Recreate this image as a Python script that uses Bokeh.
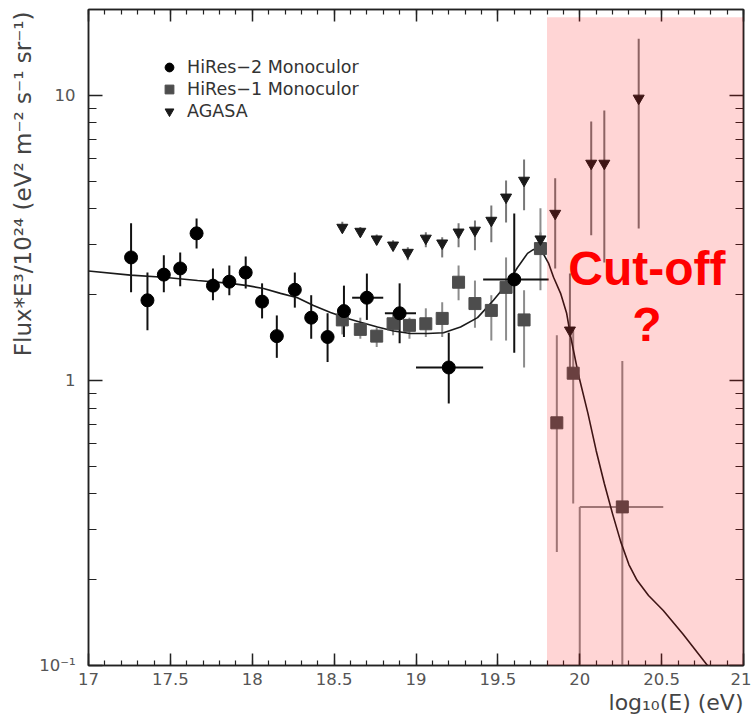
import math
from bokeh.plotting import figure
from bokeh.models import (Range1d, FixedTicker, LinearAxis, LogAxis, BoxAnnotation,
                          Label, Legend, LegendItem, ColumnDataSource, Title)
from bokeh.embed import file_html
from bokeh.resources import INLINE

# ---------------- data ----------------
# HiRes-2 Monocular (black circles)
h2_x = [17.26, 17.36, 17.46, 17.56, 17.66, 17.76, 17.86, 17.96, 18.06, 18.15, 18.26, 18.36,
        18.46, 18.56, 18.70, 18.90, 19.20, 19.60]
h2_y = [2.70, 1.91, 2.35, 2.47, 3.28, 2.15, 2.22, 2.39, 1.89, 1.43, 2.08, 1.66,
        1.42, 1.75, 1.95, 1.72, 1.11, 2.26]
h2_lo = [2.04, 1.50, 2.04, 2.14, 2.90, 1.91, 1.99, 2.10, 1.65, 1.20, 1.80, 1.40,
         1.16, 1.42, 1.63, 1.35, 0.83, 1.25]
h2_hi = [3.56, 2.39, 2.75, 2.81, 3.70, 2.47, 2.53, 2.72, 2.19, 1.69, 2.39, 1.99,
         1.72, 2.15, 2.37, 2.19, 1.47, 3.85]
h2_xlo = [17.26, 17.36, 17.46, 17.56, 17.66, 17.76, 17.86, 17.96, 18.06, 18.15, 18.26, 18.36,
          18.46, 18.56, 18.61, 18.81, 19.00, 19.41]
h2_xhi = [17.26, 17.36, 17.46, 17.56, 17.66, 17.76, 17.86, 17.96, 18.06, 18.15, 18.26, 18.36,
          18.46, 18.56, 18.80, 19.00, 19.41, 19.81]

# HiRes-1 Monocular (grey squares)
h1_x = [18.55, 18.66, 18.76, 18.86, 18.96, 19.06, 19.16, 19.26, 19.36, 19.46, 19.55, 19.66,
        19.76, 19.86, 19.96, 20.00, 20.26]
h1_y = [1.63, 1.51, 1.43, 1.58, 1.56, 1.58, 1.65, 2.21, 1.86, 1.76, 2.12, 1.63,
        2.90, 0.71, 1.06, 0.05, 0.36]
h1_lo = [1.45, 1.40, 1.31, 1.44, 1.40, 1.42, 1.42, 1.91, 1.53, 1.38, 1.38, 1.11,
         2.07, 0.25, 0.37, 0.01, 0.01]
h1_hi = [1.85, 1.66, 1.53, 1.72, 1.66, 1.79, 1.88, 2.53, 2.24, 1.99, 2.70, 2.07,
         4.02, 1.44, 1.50, 0.36, 1.17]
h1_xlo = [18.55, 18.66, 18.76, 18.86, 18.96, 19.06, 19.16, 19.26, 19.36, 19.46, 19.55, 19.66,
          19.76, 19.86, 19.96, 20.00, 20.00]
h1_xhi = [18.55, 18.66, 18.76, 18.86, 18.96, 19.06, 19.16, 19.26, 19.36, 19.46, 19.55, 19.66,
          19.76, 19.86, 19.96, 20.00, 20.51]

# AGASA (inverted triangles)
ag_x = [18.55, 18.66, 18.76, 18.86, 18.95, 19.06, 19.16, 19.26, 19.36, 19.46, 19.55, 19.66,
        19.76, 19.85, 19.94, 20.07, 20.15, 20.36]
ag_y = [3.44, 3.33, 3.13, 2.98, 2.81, 3.15, 3.03, 3.31, 3.36, 3.64, 4.39, 5.03,
        3.13, 3.85, 1.50, 5.77, 5.77, 9.76]
ag_lo = [3.30, 3.20, 3.00, 2.85, 2.64, 2.93, 2.70, 2.93, 2.86, 3.05, 3.58, 3.95,
         2.95, 2.47, 1.06, 3.23, 2.59, 3.41]
ag_hi = [3.60, 3.45, 3.25, 3.10, 2.93, 3.31, 3.18, 3.56, 3.64, 4.11, 5.03, 5.96,
         3.30, 5.12, 2.37, 8.10, 8.85, 15.8]

# model curve
fit_x = [17.0, 17.256, 17.458, 17.666, 17.867, 17.971, 18.069, 18.173, 18.276, 18.374,
         18.478, 18.582, 18.661, 18.765, 18.863, 18.966, 19.070, 19.168, 19.272, 19.376,
         19.473, 19.559, 19.620, 19.681, 19.718, 19.773, 19.809, 19.840, 19.883, 19.920,
         19.945, 19.990, 20.05, 20.10, 20.15, 20.20, 20.25, 20.30, 20.35, 20.42, 20.51,
         20.63, 20.78, 20.85]
fit_y = [2.42, 2.34, 2.30, 2.24, 2.19, 2.15, 2.10, 2.02, 1.95, 1.83,
         1.73, 1.65, 1.60, 1.54, 1.49, 1.46, 1.46, 1.47, 1.54, 1.66,
         1.91, 2.19, 2.49, 2.79, 2.88, 2.81, 2.58, 2.30, 2.02, 1.72,
         1.42, 1.06, 0.766, 0.568, 0.435, 0.341, 0.272, 0.226, 0.199, 0.176, 0.156,
         0.129, 0.100, 0.088]

x_major = [17, 17.5, 18, 18.5, 19, 19.5, 20, 20.5, 21]
x_tick_labels = ["17", "17.5", "18", "18.5", "19", "19.5", "20", "20.5", "21"]
x_minor = [round(17 + 0.1 * i, 1) for i in range(41)]
y_major = [0.1, 1, 10]
y_tick_labels = ["10\u207b\u00b9", "1", "10"]
y_minor = [0.2, 0.3, 0.4, 0.5, 0.6, 0.7, 0.8, 0.9, 2, 3, 4, 5, 6, 7, 8, 9, 20]

cut_region = (19.8, 21.0, 0.1, 18.8)

FONT = "DejaVu Sans"

# ---------------- figure ----------------
p = figure(width=751, height=721, x_range=Range1d(17, 21), y_range=Range1d(0.1, 20),
           y_axis_type="log", output_backend="svg", toolbar_location=None,
           min_border_left=88, min_border_right=8, min_border_top=9, min_border_bottom=56,
           background_fill_color="white", border_fill_color="white")
p.xgrid.visible = False
p.ygrid.visible = False
p.outline_line_color = "#222222"
p.outline_line_width = 1.5

xt = FixedTicker(ticks=x_major, minor_ticks=x_minor)
yt = FixedTicker(ticks=y_major, minor_ticks=y_minor)


def style_axis(ax, tin, tmin):
    ax.axis_line_color = "#222222"
    ax.axis_line_width = 1.5
    ax.major_tick_line_color = "#222222"
    ax.minor_tick_line_color = "#222222"
    ax.major_tick_line_width = 1.5
    ax.minor_tick_line_width = 1.2
    ax.major_tick_in = tin
    ax.major_tick_out = 0
    ax.minor_tick_in = tmin
    ax.minor_tick_out = 0
    ax.major_label_text_font = FONT
    ax.major_label_text_font_size = "16.5px"
    ax.major_label_text_color = "#555555"


xa = p.xaxis[0]
xa.ticker = xt
xa.major_label_overrides = {v: s for v, s in zip(x_major, x_tick_labels)}
style_axis(xa, 12, 5)
xa.major_label_standoff = 7

ya = p.yaxis[0]
ya.ticker = yt
ya.major_label_overrides = {v: s for v, s in zip(y_major, y_tick_labels)}
style_axis(ya, 14, 8)
ya.major_label_standoff = 13

# mirror axes (ticks only)
top = LinearAxis(ticker=xt)
style_axis(top, 12, 5)
top.major_label_text_font_size = "1px"
top.major_label_text_alpha = 0
top.major_label_standoff = 0
p.add_layout(top, "above")
right = LogAxis(ticker=yt)
style_axis(right, 14, 8)
right.major_label_text_font_size = "1px"
right.major_label_text_alpha = 0
right.major_label_standoff = 0
p.add_layout(right, "right")

# axis titles
p.add_layout(Title(text="Flux*E\u00b3/10\u00b2\u2074 (eV\u00b2 m\u207b\u00b2 s\u207b\u00b9 sr\u207b\u00b9)",
                   align="right", offset=2, standoff=2, text_font=FONT,
                   text_font_style="normal", text_font_size="23px",
                   text_color="#444444"), "left")
p.add_layout(Title(text="log\u2081\u2080(E) (eV)", align="right", offset=0, standoff=0,
                   text_font=FONT, text_font_style="normal", text_font_size="22px",
                   text_color="#444444"), "below")

# ---------------- glyphs ----------------
src2 = ColumnDataSource(dict(x=h2_x, y=h2_y, lo=h2_lo, hi=h2_hi, xlo=h2_xlo, xhi=h2_xhi))
src1 = ColumnDataSource(dict(x=h1_x, y=h1_y, lo=h1_lo, hi=h1_hi, xlo=h1_xlo, xhi=h1_xhi))
srca = ColumnDataSource(dict(x=ag_x, y=ag_y, lo=ag_lo, hi=ag_hi))

# error bars
p.segment(x0="x", y0="lo", x1="x", y1="hi", source=srca, line_color="#777777", line_width=2)
p.segment(x0="x", y0="lo", x1="x", y1="hi", source=src1, line_color="#8c8c8c", line_width=2)
p.segment(x0="xlo", y0="y", x1="xhi", y1="y", source=src1, line_color="#8c8c8c", line_width=2)
p.segment(x0="x", y0="lo", x1="x", y1="hi", source=src2, line_color="#111111", line_width=2)
p.segment(x0="xlo", y0="y", x1="xhi", y1="y", source=src2, line_color="#111111", line_width=2)

p.line(fit_x, fit_y, line_color="#1a1a1a", line_width=1.6)

r1 = p.scatter("x", "y", source=src1, marker="square", size=12,
               fill_color="#4d4d4d", line_color="#4d4d4d")
ra = p.scatter("x", "y", source=srca, marker="inverted_triangle", size=11,
               fill_color="#1a1a1a", line_color="#1a1a1a")
r2 = p.scatter("x", "y", source=src2, marker="circle", size=13,
               fill_color="black", line_color="black")

# shaded cut-off region
box = BoxAnnotation(left=cut_region[0], right=cut_region[1], bottom=cut_region[2],
                    top=cut_region[3], fill_color="#ff0000", fill_alpha=0.165,
                    line_alpha=0)
p.add_layout(box)

# legend
legend = Legend(items=[LegendItem(label="HiRes\u22122 Monoculor", renderers=[r2]),
                       LegendItem(label="HiRes\u22121 Monoculor", renderers=[r1]),
                       LegendItem(label="AGASA", renderers=[ra])],
                location=(68, 543), orientation="vertical",
                border_line_color=None, background_fill_alpha=0,
                padding=0, margin=0, spacing=0,
                glyph_width=26, glyph_height=22, label_height=22, label_standoff=5,
                label_text_font=FONT, label_text_font_size="17.5px",
                label_text_color="#333333")
p.add_layout(legend)

# text annotations
p.add_layout(Label(x=20.41, y=2.47, text="Cut-off", text_align="center",
                   text_baseline="middle", text_font="Liberation Sans",
                   text_font_style="bold", text_font_size="48px", text_color="#ff0000"))
p.add_layout(Label(x=20.41, y=1.57, text="?", text_align="center",
                   text_baseline="middle", text_font="Liberation Sans",
                   text_font_style="bold", text_font_size="48px", text_color="#ff0000"))

open("out.html", "w").write(file_html(p, INLINE))
